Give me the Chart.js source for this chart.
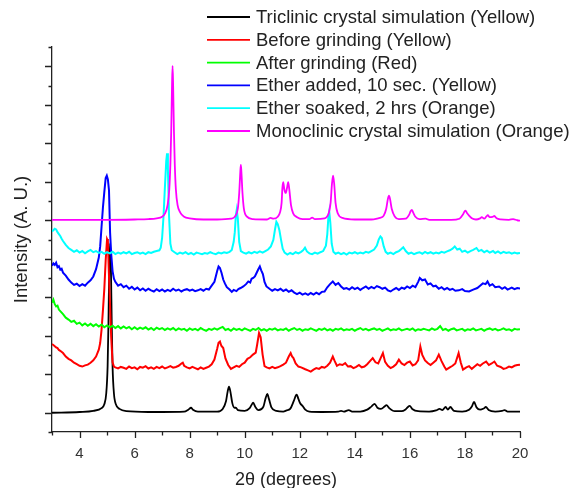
<!DOCTYPE html>
<html>
<head>
<meta charset="utf-8">
<title>XRD patterns</title>
<script src="https://cdn.jsdelivr.net/npm/chart.js@4.4.0/dist/chart.umd.min.js"></script>
<style>
  html, body { margin: 0; padding: 0; background: #fff; }
  #wrap { width: 573px; height: 488px; }
</style>
</head>
<body>
<div id="wrap"><canvas id="xrdChart" width="573" height="488"></canvas></div>
<script>
// --- 1. Data ---
// Each pattern is a list of [2theta, intensity] pairs, intensity measured from its own baseline.
const seriesLabels = [
    'Triclinic crystal simulation (Yellow)',
    'Before grinding (Yellow)',
    'After grinding (Red)',
    'Ether added, 10 sec. (Yellow)',
    'Ether soaked, 2 hrs (Orange)',
    'Monoclinic crystal simulation (Orange)'
];

// vertical offset of each pattern in the stacked plot
const baselineOffsets = [0, 116, 216, 318, 414, 500];

const xTickLabels = [4, 6, 8, 10, 12, 14, 16, 18, 20];

const triclinicSim = [
    [3.0,0],[4.0,2],[4.5,5],[4.8,12],[4.9,22],[4.97,50],[5.02,120],[5.05,230],[5.08,380],[5.11,440],
    [5.14,380],[5.17,230],[5.2,120],[5.25,50],[5.32,22],[5.45,10],[5.7,4],[6.5,2],[7.0,2],[7.8,3],
    [7.95,8],[8.05,13],[8.12,8],[8.3,3],[9.0,3],[9.2,10],[9.32,30],[9.38,55],[9.43,68],[9.48,55],
    [9.55,25],[9.63,13],[9.68,13],[9.75,7],[10.0,5],[10.18,12],[10.28,24],[10.31,26],[10.38,16],[10.5,7],
    [10.68,16],[10.76,38],[10.82,49],[10.88,36],[10.97,14],[11.15,5],[11.4,3],[11.52,6],[11.65,10],[11.78,30],
    [11.86,45],[11.89,47],[11.95,36],[12.02,24],[12.1,18],[12.2,8],[12.35,3],[12.8,2],[13.4,3],[13.5,5],
    [13.6,3],[13.78,7],[13.9,3],[14.2,3],[14.45,8],[14.6,16],[14.72,23],[14.82,13],[14.95,10],[15.08,16],
    [15.15,20],[15.25,12],[15.45,4],[15.7,4],[15.85,9],[15.99,18],[16.1,9],[16.3,4],[16.7,3],[16.95,6],
    [17.08,10],[17.18,7],[17.3,15],[17.38,8],[17.47,15],[17.6,5],[17.9,3],[18.15,8],[18.25,16],[18.33,28],
    [18.42,14],[18.55,8],[18.68,11],[18.76,15],[18.86,7],[19.1,3],[19.35,5],[19.44,7],[19.55,3],[20.0,3]
];

const beforeGrinding = [
    [3.0,62],[3.05,60],[3.1,57],[3.15,54],[3.2,52],[3.25,47],[3.3,45],[3.4,39],[3.5,30],[3.6,24],
    [3.7,20],[3.8,14],[3.9,10],[4.0,6],[4.1,4],[4.2,7],[4.3,9],[4.4,14],[4.5,20],[4.6,30],
    [4.7,48],[4.75,65],[4.8,100],[4.85,150],[4.9,205],[4.95,280],[5.0,335],[5.03,330],[5.06,260],[5.1,180],
    [5.15,80],[5.2,15],[5.25,4],[5.3,2],[5.4,-1],[5.5,3],[5.6,1],[5.7,-2],[5.8,4],[5.9,0],
    [6.0,2],[6.1,-3],[6.2,3],[6.3,1],[6.4,5],[6.5,-1],[6.6,2],[6.7,-2],[6.8,3],[6.9,0],
    [7.0,4],[7.1,-1],[7.2,2],[7.3,5],[7.4,1],[7.5,3],[7.6,6],[7.7,12],[7.75,14],[7.8,6],
    [7.9,2],[8.0,-1],[8.1,3],[8.2,0],[8.3,-3],[8.4,2],[8.5,-2],[8.6,1],[8.7,4],[8.8,10],
    [8.9,22],[9.0,50],[9.05,66],[9.1,69],[9.15,58],[9.22,52],[9.3,25],[9.4,8],[9.5,-2],[9.6,2],
    [9.7,6],[9.8,3],[9.9,10],[10.0,14],[10.1,24],[10.2,28],[10.3,35],[10.4,40],[10.45,60],[10.52,91],
    [10.58,80],[10.65,35],[10.72,5],[10.8,2],[10.9,-1],[11.0,3],[11.1,0],[11.2,2],[11.3,5],[11.4,9],
    [11.5,14],[11.6,30],[11.67,39],[11.72,30],[11.77,26],[11.85,12],[11.95,4],[12.05,2],[12.2,-3],[12.3,-6],
    [12.4,-9],[12.5,-4],[12.6,0],[12.7,-2],[12.8,3],[12.9,1],[13.0,6],[13.1,14],[13.2,30],[13.27,18],
    [13.35,6],[13.45,10],[13.55,8],[13.65,13],[13.75,4],[13.85,5],[13.95,0],[14.05,3],[14.15,8],[14.25,2],
    [14.35,4],[14.45,10],[14.55,18],[14.65,26],[14.75,15],[14.85,12],[14.95,28],[15.02,39],[15.1,16],[15.2,6],
    [15.3,0],[15.4,4],[15.5,10],[15.6,22],[15.7,12],[15.8,8],[15.9,14],[16.0,17],[16.1,7],[16.2,10],
    [16.3,20],[16.38,56],[16.45,34],[16.55,20],[16.65,13],[16.75,8],[16.85,14],[16.95,20],[17.05,35],[17.15,18],
    [17.25,4],[17.32,-4],[17.45,2],[17.55,6],[17.65,12],[17.77,39],[17.85,14],[17.93,-4],[18.05,2],[18.15,5],
    [18.25,-2],[18.35,4],[18.45,10],[18.55,6],[18.65,12],[18.77,17],[18.87,8],[18.97,12],[19.07,17],[19.17,6],
    [19.3,3],[19.4,-2],[19.5,0],[19.6,4],[19.7,2],[19.8,6],[19.9,8],[20.0,9]
];

const afterGrinding = [
    [3.0,70],[3.05,78],[3.1,66],[3.15,60],[3.2,62],[3.25,52],[3.3,48],[3.35,44],[3.4,40],[3.5,31],
    [3.6,26],[3.7,20],[3.8,23],[3.9,15],[4.0,18],[4.1,11],[4.2,16],[4.3,10],[4.4,15],[4.5,9],
    [4.6,14],[4.7,8],[4.8,13],[4.9,6],[5.0,11],[5.1,6],[5.2,10],[5.3,4],[5.4,9],[5.5,3],
    [5.6,8],[5.7,3],[5.8,7],[5.9,1],[6.0,6],[6.1,1],[6.2,5],[6.3,2],[6.4,6],[6.5,0],
    [6.6,4],[6.7,-1],[6.8,5],[6.9,1],[7.0,4],[7.1,-1],[7.2,3],[7.3,0],[7.4,4],[7.5,-2],
    [7.6,3],[7.7,0],[7.8,2],[7.9,-3],[8.0,3],[8.1,-1],[8.2,2],[8.3,-2],[8.4,4],[8.5,0],
    [8.6,-3],[8.7,2],[8.8,-1],[8.9,3],[9.0,0],[9.1,4],[9.2,7],[9.3,-1],[9.4,2],[9.5,-3],
    [9.6,3],[9.7,-1],[9.8,2],[9.9,-2],[10.0,3],[10.1,0],[10.2,-3],[10.3,2],[10.4,-1],[10.5,4],
    [10.6,-2],[10.7,1],[10.8,-3],[10.9,2],[11.0,0],[11.1,3],[11.2,-2],[11.3,1],[11.4,-1],[11.5,3],
    [11.6,-3],[11.7,1],[11.8,4],[11.9,-1],[12.0,2],[12.1,-3],[12.2,1],[12.3,-1],[12.4,3],[12.5,0],
    [12.6,-3],[12.7,2],[12.8,-1],[12.9,3],[13.0,-2],[13.1,1],[13.2,-3],[13.3,2],[13.4,0],[13.5,3],
    [13.6,-2],[13.7,1],[13.8,-1],[13.9,2],[14.0,-3],[14.1,1],[14.2,4],[14.3,-1],[14.4,2],[14.5,-2],
    [14.6,1],[14.7,3],[14.8,-1],[14.9,2],[15.0,-3],[15.1,0],[15.2,3],[15.3,-2],[15.4,1],[15.5,-1],
    [15.6,3],[15.7,-2],[15.8,0],[15.9,2],[16.0,-1],[16.1,3],[16.2,-3],[16.3,1],[16.4,-1],[16.5,2],
    [16.6,0],[16.7,-2],[16.8,3],[16.9,-1],[17.0,2],[17.1,9],[17.2,-1],[17.3,2],[17.4,-3],[17.5,1],
    [17.6,3],[17.7,-2],[17.8,0],[17.9,2],[18.0,-3],[18.1,1],[18.2,-1],[18.3,3],[18.4,-2],[18.5,0],
    [18.6,2],[18.7,-3],[18.8,1],[18.9,3],[19.0,-1],[19.1,2],[19.2,-2],[19.3,0],[19.4,3],[19.5,-1],
    [19.6,1],[19.7,-3],[19.8,2],[19.9,0],[20.0,1]
];

const etherAdded = [
    [3.0,64],[3.05,70],[3.1,66],[3.15,72],[3.2,60],[3.25,63],[3.3,54],[3.35,56],[3.4,46],[3.5,38],
    [3.6,28],[3.7,20],[3.8,14],[3.9,17],[4.0,11],[4.1,16],[4.2,12],[4.3,20],[4.4,26],[4.5,36],
    [4.6,55],[4.7,85],[4.75,114],[4.8,165],[4.85,215],[4.9,255],[4.95,292],[4.99,298],[5.03,288],[5.07,260],
    [5.11,150],[5.15,95],[5.2,50],[5.25,30],[5.3,22],[5.4,12],[5.5,16],[5.6,8],[5.7,12],[5.8,4],
    [5.9,9],[6.0,2],[6.1,7],[6.2,0],[6.3,5],[6.4,-1],[6.5,4],[6.6,0],[6.7,-3],[6.8,3],
    [6.9,-2],[7.0,2],[7.1,-3],[7.2,1],[7.3,-2],[7.4,4],[7.5,-1],[7.6,2],[7.7,-3],[7.8,1],
    [7.9,3],[8.0,-1],[8.1,2],[8.2,-2],[8.3,0],[8.4,3],[8.5,-1],[8.6,4],[8.7,2],[8.8,12],
    [8.9,22],[8.95,36],[9.0,50],[9.05,62],[9.1,58],[9.16,45],[9.22,28],[9.28,18],[9.35,8],[9.45,2],
    [9.53,-4],[9.6,1],[9.7,-2],[9.77,3],[9.85,6],[9.95,10],[10.05,16],[10.13,23],[10.2,20],[10.25,30],
    [10.31,32],[10.37,36],[10.43,45],[10.49,54],[10.55,62],[10.6,52],[10.66,42],[10.72,22],[10.79,10],[10.9,4],
    [11.0,-1],[11.1,3],[11.2,0],[11.3,4],[11.4,-2],[11.5,2],[11.6,-4],[11.7,0],[11.8,-6],[11.9,-10],
    [12.0,-6],[12.1,-11],[12.2,-8],[12.3,-12],[12.4,-7],[12.5,-11],[12.6,-6],[12.7,-10],[12.8,-4],[12.9,-3],
    [13.0,8],[13.1,16],[13.2,23],[13.3,14],[13.4,19],[13.5,10],[13.6,4],[13.7,6],[13.8,2],[13.9,8],
    [14.0,3],[14.1,7],[14.2,1],[14.3,6],[14.4,10],[14.5,4],[14.6,9],[14.7,5],[14.8,11],[14.9,8],
    [15.0,4],[15.1,7],[15.2,0],[15.3,-3],[15.4,2],[15.5,6],[15.6,1],[15.7,7],[15.8,4],[15.9,10],
    [16.0,6],[16.1,12],[16.2,8],[16.3,22],[16.36,32],[16.45,26],[16.55,28],[16.65,15],[16.75,18],[16.85,10],
    [16.94,12],[17.05,4],[17.15,8],[17.25,2],[17.35,6],[17.45,1],[17.55,4],[17.65,-1],[17.78,0],[17.9,3],
    [18.0,-2],[18.15,-3],[18.3,2],[18.45,6],[18.55,12],[18.65,18],[18.75,16],[18.82,23],[18.9,12],[19.0,16],
    [19.1,8],[19.24,10],[19.35,4],[19.45,8],[19.55,2],[19.7,7],[19.8,3],[19.9,6],[20.0,5]
];

const etherSoaked = [
    [3.0,57],[3.05,60],[3.1,64],[3.15,62],[3.2,55],[3.25,50],[3.3,45],[3.35,38],[3.4,32],[3.5,22],
    [3.6,14],[3.7,9],[3.8,4],[3.9,8],[4.0,2],[4.1,6],[4.2,0],[4.3,5],[4.4,9],[4.5,3],
    [4.6,6],[4.7,1],[4.8,4],[4.9,-1],[5.0,3],[5.1,0],[5.2,4],[5.3,-2],[5.4,2],[5.5,-1],
    [5.6,3],[5.7,0],[5.8,4],[5.9,-2],[6.0,1],[6.1,3],[6.2,-1],[6.3,2],[6.4,-2],[6.5,3],
    [6.6,1],[6.7,4],[6.8,6],[6.9,8],[6.95,15],[7.0,40],[7.05,95],[7.1,170],[7.15,240],[7.18,260],
    [7.21,220],[7.25,100],[7.3,25],[7.35,8],[7.45,3],[7.55,-2],[7.65,2],[7.75,-1],[7.85,3],[7.95,-2],
    [8.05,1],[8.15,-3],[8.25,2],[8.35,0],[8.45,-2],[8.55,1],[8.65,-1],[8.75,3],[8.85,0],[8.95,-2],
    [9.05,2],[9.15,0],[9.25,3],[9.35,1],[9.45,4],[9.53,9],[9.6,30],[9.64,55],[9.68,100],[9.71,113],
    [9.75,90],[9.8,30],[9.86,6],[9.95,2],[10.05,-1],[10.15,3],[10.25,0],[10.35,4],[10.45,1],[10.55,5],
    [10.65,2],[10.75,6],[10.85,10],[10.95,18],[11.04,35],[11.1,62],[11.15,82],[11.2,76],[11.26,60],[11.32,35],
    [11.38,12],[11.45,2],[11.55,-3],[11.65,1],[11.75,-2],[11.85,3],[11.95,0],[12.05,4],[12.12,8],[12.19,15],
    [12.26,5],[12.35,0],[12.45,-2],[12.55,2],[12.65,-1],[12.75,3],[12.85,6],[12.95,20],[13.0,50],[13.04,95],
    [13.07,109],[13.11,80],[13.16,25],[13.22,4],[13.3,-1],[13.4,2],[13.5,-2],[13.6,1],[13.7,-3],[13.8,2],
    [13.9,0],[14.0,3],[14.1,-1],[14.2,2],[14.3,0],[14.4,4],[14.5,2],[14.6,6],[14.7,10],[14.8,20],
    [14.87,36],[14.93,44],[14.98,40],[15.05,18],[15.12,4],[15.2,-1],[15.3,2],[15.4,-2],[15.5,3],[15.6,6],
    [15.7,12],[15.76,16],[15.85,6],[15.95,-1],[16.05,2],[16.15,-2],[16.25,1],[16.35,3],[16.45,-1],[16.55,4],
    [16.65,0],[16.75,3],[16.85,-1],[16.95,2],[17.05,0],[17.15,4],[17.25,2],[17.35,5],[17.45,8],[17.55,12],
    [17.63,18],[17.72,10],[17.81,12],[17.9,4],[18.0,7],[18.1,2],[18.2,6],[18.3,9],[18.42,14],[18.5,6],
    [18.6,9],[18.7,3],[18.8,7],[18.9,2],[19.02,6],[19.1,1],[19.2,5],[19.3,0],[19.4,4],[19.5,1],
    [19.6,3],[19.7,-1],[19.8,2],[19.9,0],[20.0,1]
];

const monoclinicSim = [
    [3.0,1],[4.0,1],[5.0,1],[6.0,2],[6.5,3],[6.8,5],[7.0,9],[7.1,17],[7.2,40],[7.26,80],
    [7.3,145],[7.33,230],[7.36,350],[7.38,401],[7.4,350],[7.43,230],[7.46,145],[7.5,80],[7.56,40],[7.66,20],
    [7.8,9],[8.0,5],[8.5,2],[9.0,2],[9.5,4],[9.65,10],[9.75,30],[9.8,70],[9.84,125],[9.86,144],
    [9.88,125],[9.92,70],[9.97,30],[10.07,10],[10.3,3],[10.8,2],[10.94,6],[11.05,4],[11.2,9],[11.28,20],
    [11.34,45],[11.37,85],[11.4,99],[11.44,80],[11.49,71],[11.54,85],[11.58,99],[11.62,80],[11.68,40],[11.76,18],
    [11.9,8],[12.1,3],[12.35,3],[12.45,7],[12.55,3],[12.9,5],[13.05,18],[13.12,45],[13.17,95],[13.21,116],
    [13.25,95],[13.3,45],[13.38,18],[13.55,6],[14.0,2],[14.6,2],[14.85,5],[14.95,7],[15.05,12],[15.14,30],
    [15.2,55],[15.24,64],[15.28,55],[15.34,30],[15.45,10],[15.6,3],[15.85,4],[15.97,14],[16.03,24],[16.07,27],
    [16.12,20],[16.2,9],[16.35,3],[16.57,4],[16.7,1],[17.5,1],[17.8,4],[17.92,14],[17.98,22],[18.02,25],
    [18.08,18],[18.15,12],[18.25,5],[18.4,2],[18.55,5],[18.61,8],[18.7,4],[18.78,10],[18.83,13],[18.9,8],
    [19.0,9],[19.07,11],[19.15,5],[19.3,2],[19.6,1],[19.75,3],[19.9,0],[20.0,-1]
];

const allPatterns = [triclinicSim, beforeGrinding, afterGrinding, etherAdded, etherSoaked, monoclinicSim];
const lineColors = ['#000000', '#ff0000', '#00ff00', '#0000ff', '#00ffff', '#ff00ff'];
const smoothPatterns = [true, false, false, false, false, true];   // simulated patterns are smooth

const FONT = "'Liberation Sans', Arial, sans-serif";

// --- 2. Plugins: axis tick marks and legend in the upper right ---
const axisTicks = {
    id: 'axisTicks',
    afterDraw(chart) {
        const { ctx, scales: { x, y } } = chart;
        ctx.save();
        ctx.strokeStyle = '#222';
        ctx.lineWidth = 1.3;
        ctx.beginPath();
        // x: minor every 1, major every 2
        for (let v = 3; v <= 20; v++) {
            const px = Math.round(x.getPixelForValue(v)) + 0.5;
            const len = v % 2 === 0 ? 6 : 3.5;
            ctx.moveTo(px, y.bottom);
            ctx.lineTo(px, y.bottom + len);
        }
        // y: minor every 50, major every 100
        for (let v = -50; v <= 950; v += 50) {
            const py = Math.round(y.getPixelForValue(v)) + 0.5;
            const len = v % 100 === 0 ? 7 : 3.5;
            ctx.moveTo(x.left, py);
            ctx.lineTo(x.left - len, py);
        }
        ctx.stroke();
        ctx.restore();
    }
};

const cornerLegend = {
    id: 'cornerLegend',
    afterDraw(chart) {
        const ctx = chart.ctx;
        ctx.save();
        ctx.font = '18.5px ' + FONT;
        ctx.textBaseline = 'middle';
        chart.data.datasets.forEach((ds, i) => {
            const rowY = 17 + i * 22.8;
            ctx.strokeStyle = ds.borderColor;
            ctx.lineWidth = 1.8;
            ctx.beginPath();
            ctx.moveTo(207, rowY);
            ctx.lineTo(250, rowY);
            ctx.stroke();
            ctx.fillStyle = '#222';
            ctx.fillText(ds.label, 256, rowY + 1);
        });
        ctx.restore();
    }
};

// --- 3. Chart ---
const datasets = allPatterns.map((pts, i) => ({
    label: seriesLabels[i],
    data: pts.map(p => ({ x: p[0], y: p[1] + baselineOffsets[i] })),
    borderColor: lineColors[i],
    backgroundColor: lineColors[i],
    borderWidth: smoothPatterns[i] ? 1.8 : 2,
    pointRadius: 0,
    fill: false,
    tension: 0,
    cubicInterpolationMode: smoothPatterns[i] ? 'monotone' : 'default',
    order: allPatterns.length - i   // later patterns drawn on top
}));

const ctx = document.getElementById('xrdChart').getContext('2d');
const xrdChart = new Chart(ctx, {
    type: 'line',
    data: { datasets },
    options: {
        responsive: false,
        animation: false,
        devicePixelRatio: 1,
        layout: { padding: { top: 47, right: 53, bottom: 0, left: 0 } },
        plugins: {
            legend: { display: false },
            tooltip: { enabled: false }
        },
        scales: {
            x: {
                type: 'linear',
                min: 3,
                max: 20,
                afterFit: s => { s.height = 56; },
                grid: { display: false, drawTicks: true, tickLength: 6 },
                border: { display: true, color: '#222', width: 1.3 },
                ticks: {
                    stepSize: 1,
                    autoSkip: false,
                    maxRotation: 0,
                    padding: 7,
                    color: '#333',
                    font: { family: FONT, size: 15 },
                    callback: v => xTickLabels.includes(v) ? String(v) : ''
                },
                title: {
                    display: true,
                    text: '2θ (degrees)',
                    color: '#222',
                    font: { family: FONT, size: 18 },
                    padding: { top: 0, bottom: -3 }
                }
            },
            y: {
                min: -50,
                max: 950,
                afterFit: s => { s.width = 52; },
                grid: { display: false },
                border: { display: true, color: '#222', width: 1.3 },
                ticks: { display: false, stepSize: 50 },
                title: {
                    display: true,
                    text: 'Intensity (A. U.)',
                    color: '#222',
                    font: { family: FONT, size: 18.5 },
                    padding: { top: 11, bottom: 0 }
                }
            }
        }
    },
    plugins: [axisTicks, cornerLegend]
});
</script>
</body>
</html>
